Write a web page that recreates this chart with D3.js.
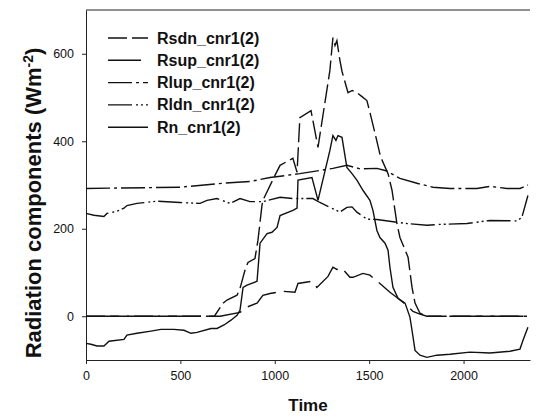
<!DOCTYPE html>
<html>
<head>
<meta charset="utf-8">
<script src="https://cdn.jsdelivr.net/npm/d3@7"></script>
<style>
  body { margin: 0; background: #fff; }
  #rad-graph-div { width: 537px; height: 417px; }
  text { font-family: "Liberation Sans", Arial, sans-serif; fill: #111; }
</style>
</head>
<body>
<div id="rad-graph-div"></div>
<script>
// series: [time, W m-2]
const rsdnData = [[0,0],[680,0],[726,30],[747,37],[800,48],[816,64],[842,105],[858,123],[895,132],[911,174],[932,253],[937,265],[1001,322],[1028,345],[1096,361],[1118,329],[1133,454],[1192,470],[1229,386],[1245,431],[1292,562],[1308,637],[1319,619],[1329,630],[1345,585],[1356,560],[1388,511],[1410,516],[1435,511],[1462,502],[1488,493],[1504,466],[1530,420],[1560,365],[1600,326],[1621,288],[1647,212],[1663,180],[1706,135],[1727,66],[1743,30],[1769,7],[1806,0],[2336,0]];
const rsupData = [[0,0],[710,0],[816,9],[853,21],[906,30],[937,48],[975,52],[1043,57],[1107,55],[1123,75],[1197,80],[1223,66],[1282,91],[1308,112],[1329,107],[1356,110],[1398,89],[1414,89],[1467,98],[1504,94],[1557,75],[1610,55],[1647,43],[1700,25],[1732,11],[1769,5],[1806,0],[2336,0]];
const rlupData = [[0,292],[498,295],[726,304],[869,308],[975,317],[1133,326],[1308,338],[1382,345],[1451,337],[1541,338],[1594,332],[1663,315],[1753,304],[1838,295],[1928,292],[2071,292],[2140,297],[2230,292],[2299,292],[2341,300]];
const rldnData = [[0,235],[42,231],[95,228],[111,235],[164,240],[201,247],[217,253],[270,258],[376,263],[498,260],[604,258],[641,265],[694,269],[763,258],[816,269],[869,262],[937,262],[1028,272],[1096,269],[1202,269],[1239,260],[1292,249],[1345,238],[1382,249],[1409,250],[1435,238],[1488,222],[1541,221],[1700,212],[1806,208],[1875,210],[2018,212],[2140,219],[2283,218],[2309,226],[2341,276]];
const rnData = [[0,-62],[26,-64],[58,-68],[95,-68],[122,-57],[201,-53],[217,-43],[270,-39],[344,-34],[397,-30],[466,-30],[519,-32],[556,-39],[588,-37],[662,-28],[694,-28],[731,-20],[768,-9],[800,2],[816,14],[832,66],[853,71],[906,80],[922,167],[959,189],[985,192],[1012,203],[1028,230],[1096,242],[1118,247],[1123,311],[1197,317],[1229,265],[1292,379],[1308,413],[1324,402],[1335,413],[1356,409],[1382,340],[1409,326],[1435,311],[1467,288],[1504,265],[1520,242],[1541,196],[1557,180],[1584,167],[1600,151],[1610,112],[1626,66],[1653,41],[1690,30],[1716,-2],[1727,-32],[1743,-78],[1769,-89],[1806,-94],[1859,-89],[1928,-87],[2034,-82],[2140,-84],[2246,-80],[2299,-75],[2315,-55],[2341,-25]];

const radSeriesNames = ['Rsdn_cnr1(2)', 'Rsup_cnr1(2)', 'Rlup_cnr1(2)', 'Rldn_cnr1(2)', 'Rn_cnr1(2)'];
const radSeriesData = [rsdnData, rsupData, rlupData, rldnData, rnData];
const radDashes = ['19,5', '33,8', '24,4,3,4', '24,4,2,3,2,3', null];

const xTickVals = [0, 500, 1000, 1500, 2000];
const yTickVals = [0, 200, 400, 600];

const radWidth = 537, radHeight = 417;
const radMargin = {top: 10, right: 7, bottom: 57, left: 86};

const svg = d3.select("#rad-graph-div")
    .append("svg")
        .attr("width", radWidth)
        .attr("height", radHeight);

const x = d3.scaleLinear()
    .domain([0, 2352])
    .range([radMargin.left, radWidth - radMargin.right]);
const y = d3.scaleLinear()
    .domain([-100, 700])
    .range([radHeight - radMargin.bottom, radMargin.top]);

// x axis
svg.append("g")
    .attr("transform", `translate(0,${radHeight - radMargin.bottom})`)
    .call(d3.axisBottom(x).tickValues(xTickVals).tickFormat(d3.format("d")).tickSize(4).tickSizeOuter(0).tickPadding(7))
    .call(g => g.selectAll("text").style("font-size", "12.5px").attr("fill", "#111"))
    .call(g => g.selectAll("line, path").attr("stroke", "#222"));

// y axis
svg.append("g")
    .attr("transform", `translate(${radMargin.left},0)`)
    .call(d3.axisLeft(y).tickValues(yTickVals).tickFormat(d3.format("d")).tickSize(4).tickSizeOuter(0).tickPadding(8))
    .call(g => g.selectAll("text").style("font-size", "12.5px").attr("fill", "#111"))
    .call(g => g.selectAll("line, path").attr("stroke", "#222"));

// top frame line
svg.append("line")
    .attr("x1", x.range()[0]).attr("x2", x.range()[1])
    .attr("y1", y.range()[1]).attr("y2", y.range()[1])
    .attr("stroke", "#222");

// series lines
const radLine = d3.line()
    .x(d => x(d[0]))
    .y(d => y(d[1]));

svg.append("g")
    .selectAll("path")
    .data(radSeriesData)
    .join("path")
        .attr("fill", "none")
        .attr("stroke", "#111")
        .attr("stroke-width", 1.4)
        .attr("stroke-dasharray", (d, i) => radDashes[i])
        .attr("d", radLine);

// legend
const legend = svg.append("g");
radSeriesNames.forEach((name, i) => {
    const ly = 38 + i * 22.3;
    legend.append("line")
        .attr("x1", 108).attr("x2", 148)
        .attr("y1", ly).attr("y2", ly)
        .attr("stroke", "#111")
        .attr("stroke-width", 1.4)
        .attr("stroke-dasharray", radDashes[i]);
    legend.append("text")
        .attr("x", 157)
        .attr("y", ly + 5.5)
        .style("font-size", "16px")
        .style("font-weight", "bold")
        .text(name);
});

// axis titles
svg.append("text")
    .attr("x", (x.range()[0] + x.range()[1]) / 2)
    .attr("y", 411)
    .attr("text-anchor", "middle")
    .style("font-size", "17px")
    .style("font-weight", "bold")
    .text("Time");

const yTitle = svg.append("text")
    .attr("transform", "translate(41,203) rotate(-90)")
    .attr("text-anchor", "middle")
    .style("font-size", "22px")
    .style("font-weight", "bold");
yTitle.append("tspan").text("Radiation components (Wm");
yTitle.append("tspan").attr("dy", -8).style("font-size", "14px").text("-2");
yTitle.append("tspan").attr("dy", 8).text(")");
</script>
</body>
</html>
